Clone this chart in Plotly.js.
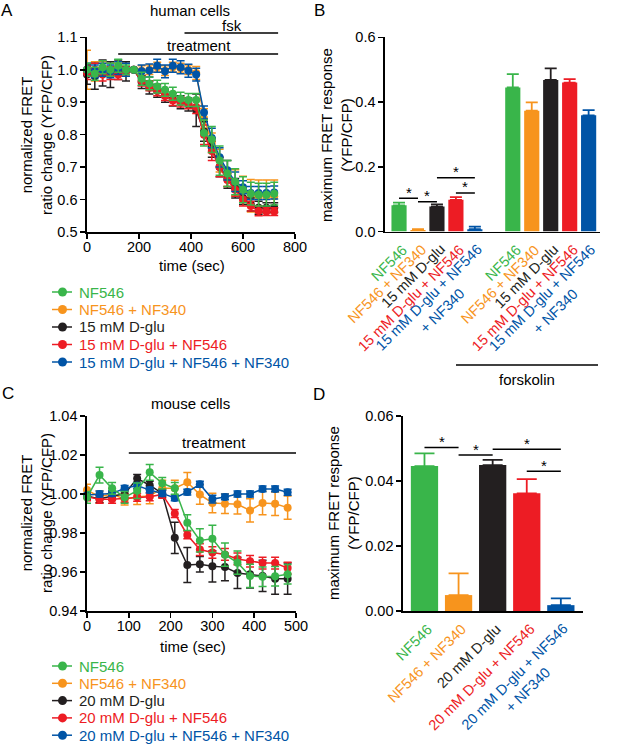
<!DOCTYPE html>
<html>
<head>
<meta charset="utf-8">
<script src="https://cdn.plot.ly/plotly-3.0.1.min.js"></script>
<style>
  body { margin: 0; background: #fff; }
  #grafico { width: 617px; height: 746px; }
</style>
</head>
<body>
<div id="grafico"></div>
<script>
// colores de las series (verde, naranja, negro, rojo, azul)
const colores = ["#39B54A", "#F7941D", "#231F20", "#ED1C24", "#0054A6"];

// ---- Panel A: human cells ----
const nombresA = ["NF546", "NF546 + NF340", "15 mM D-glu", "15 mM D-glu + NF546", "15 mM D-glu + NF546 + NF340"];
const tiempoA = [0, 30, 60, 90, 120, 150, 180, 210, 240, 270, 300, 330, 360, 390, 420, 450, 480, 510, 540, 570, 600, 630, 660, 690, 720];
const verdeA = [1.0, 0.988, 1.008, 1.0, 1.012, 1.0, 1.0, 0.972, 0.958, 0.948, 0.938, 0.926, 0.911, 0.907, 0.907, 0.805, 0.785, 0.72, 0.68, 0.655, 0.63, 0.618, 0.615, 0.615, 0.618];
const naranjaA = [1.0, 0.995, 1.005, 1.0, 1.0, 1.0, 1.0, 0.997, 1.0, 1.008, 0.997, 1.008, 1.005, 1.0, 0.99, 0.85, 0.775, 0.72, 0.68, 0.652, 0.632, 0.612, 0.61, 0.61, 0.61];
const negroA = [0.985, 0.98, 0.99, 0.985, 1.0, 0.995, 1.0, 0.962, 0.945, 0.935, 0.92, 0.908, 0.9, 0.893, 0.875, 0.81, 0.76, 0.7, 0.665, 0.635, 0.605, 0.585, 0.575, 0.575, 0.575];
const rojoA = [0.99, 1.0, 0.985, 0.99, 0.985, 0.995, 1.0, 0.965, 0.95, 0.935, 0.92, 0.905, 0.9, 0.895, 0.885, 0.8, 0.75, 0.7, 0.66, 0.63, 0.6, 0.58, 0.565, 0.563, 0.563];
const azulA = [1.0, 0.995, 1.0, 0.995, 1.005, 1.0, 1.0, 0.995, 0.998, 1.012, 0.995, 1.012, 1.008, 0.997, 0.985, 0.868, 0.79, 0.73, 0.69, 0.655, 0.638, 0.62, 0.62, 0.62, 0.622];
const verdeErrA = [0.02, 0.02, 0.02, 0.02, 0.02, 0.015, 0, 0.02, 0.02, 0.02, 0.02, 0.02, 0.02, 0.02, 0.02, 0.04, 0.04, 0.045, 0.04, 0.04, 0.04, 0.035, 0.035, 0.035, 0.035];
const naranjaErrA = [0.06, 0.03, 0.02, 0.02, 0.02, 0.02, 0, 0.015, 0.015, 0.015, 0.015, 0.015, 0.015, 0.015, 0.02, 0.03, 0.03, 0.035, 0.04, 0.04, 0.04, 0.05, 0.05, 0.05, 0.05];
const negroErrA = [0.03, 0.04, 0.04, 0.04, 0.03, 0.03, 0, 0.02, 0.02, 0.02, 0.02, 0.02, 0.02, 0.02, 0.05, 0.03, 0.03, 0.03, 0.03, 0.03, 0.02, 0.02, 0.02, 0.015, 0.015];
const rojoErrA = [0.02, 0.02, 0.02, 0.02, 0.015, 0.015, 0, 0.015, 0.015, 0.015, 0.015, 0.015, 0.015, 0.015, 0.02, 0.03, 0.03, 0.03, 0.02, 0.02, 0.02, 0.015, 0.015, 0.012, 0.012];
const azulErrA = [0.02, 0.02, 0.02, 0.02, 0.02, 0.02, 0, 0.02, 0.02, 0.02, 0.02, 0.02, 0.02, 0.02, 0.02, 0.02, 0.03, 0.03, 0.03, 0.03, 0.02, 0.02, 0.02, 0.02, 0.02];

// ---- Panel B: maximum FRET response, human ----
const etiquetasB = ["NF546", "NF546 + NF340", "15 mM D-glu", "15 mM D-glu + NF546", "15 mM D-glu + NF546<br>+ NF340"];
const posicionesB = [0, 1, 2, 3, 4, 6, 7, 8, 9, 10];
const basalB = [0.081, 0.005, 0.077, 0.098, 0.007];
const basalErrB = [0.008, 0.002, 0.007, 0.008, 0.008];
const forskolinB = [0.445, 0.373, 0.468, 0.46, 0.359];
const forskolinErrB = [0.041, 0.026, 0.036, 0.011, 0.016];
// comparaciones: [desde, hasta, altura]
const signifB = [[0, 1, 0.103], [1, 2, 0.092], [2, 4, 0.166], [3, 4, 0.119]];

// ---- Panel C: mouse cells ----
const nombresC = ["NF546", "NF546 + NF340", "20 mM D-glu", "20 mM D-glu + NF546", "20 mM D-glu + NF546 + NF340"];
const tiempoC = [0, 30, 60, 90, 120, 150, 180, 210, 240, 270, 300, 330, 360, 390, 420, 450, 480];
const verdeC = [0.9983, 1.0097, 1.0029, 0.9983, 1.0017, 1.0111, 1.0055, 1.0029, 0.9853, 0.9762, 0.977, 0.9689, 0.9648, 0.958, 0.9575, 0.9578, 0.9588];
const naranjaC = [1.002, 0.9986, 1.0, 0.9973, 0.9986, 0.999, 1.003, 1.003, 1.006, 0.9997, 0.9954, 0.995, 0.9947, 0.9916, 0.9954, 0.995, 0.993];
const negroC = [0.999, 0.9975, 0.999, 1.0, 1.008, 1.0045, 1.0003, 0.9775, 0.9636, 0.964, 0.9629, 0.9625, 0.9595, 0.9588, 0.958, 0.9566, 0.9566];
const rojoC = [0.9986, 0.9973, 0.9973, 0.9978, 0.9983, 0.9986, 0.9998, 0.99, 0.979, 0.9715, 0.97, 0.969, 0.9667, 0.9655, 0.9646, 0.9646, 0.962];
const azulC = [0.9995, 1.0, 1.0003, 1.0029, 1.0043, 1.002, 1.0003, 0.998, 1.001, 1.005, 0.9974, 0.9985, 1.0, 1.0, 1.0026, 1.0026, 1.0009];
const verdeErrC = [0.003, 0.004, 0.003, 0.003, 0.004, 0.004, 0.003, 0.003, 0.004, 0.006, 0.007, 0.006, 0.006, 0.006, 0.005, 0.005, 0.005];
const naranjaErrC = [0.003, 0.003, 0.003, 0.003, 0.004, 0.004, 0.004, 0.004, 0.005, 0.005, 0.005, 0.005, 0.005, 0.006, 0.006, 0.006, 0.006];
const negroErrC = [0.002, 0.002, 0.002, 0.002, 0.002, 0.002, 0.002, 0.008, 0.009, 0.004, 0.008, 0.007, 0.008, 0.007, 0.008, 0.008, 0.008];
const rojoErrC = [0.002, 0.002, 0.002, 0.002, 0.002, 0.002, 0.002, 0.002, 0.002, 0.003, 0.003, 0.003, 0.003, 0.003, 0.003, 0.003, 0.003];
const azulErrC = [0.0015, 0.0015, 0.0015, 0.0015, 0.0015, 0.0015, 0.0015, 0.0015, 0.0015, 0.0015, 0.002, 0.0015, 0.0015, 0.0015, 0.0015, 0.0015, 0.0015];

// ---- Panel D: maximum FRET response, mouse ----
const etiquetasD = ["NF546", "NF546 + NF340", "20 mM D-glu", "20 mM D-glu + NF546", "20 mM D-glu + NF546<br>+ NF340"];
const valoresD = [0.0446, 0.0049, 0.0449, 0.0362, 0.0018];
const erroresD = [0.0039, 0.0067, 0.0016, 0.0044, 0.0021];
const signifD = [[0, 1, 0.0503], [1, 2, 0.048], [2, 4, 0.0498], [3, 4, 0.043]];

const W = 617, H = 746;
const fuente = "Liberation Sans, Arial, Helvetica, sans-serif";
const px = x => x / W;
const py = y => 1 - y / H;

// orden de dibujo: naranja, negro, rojo, azul, verde (verde encima)
const ordenDibujo = [1, 2, 3, 4, 0];

function trazasTiempo(tiempo, series, errores, nombres, ejeX, ejeY) {
    return ordenDibujo.map(i => ({
        x: tiempo,
        y: series[i],
        error_y: { type: "data", array: errores[i], color: colores[i], thickness: 1.5, width: 4 },
        mode: "lines+markers",
        type: "scatter",
        line: { color: colores[i], width: 1.5 },
        marker: { color: colores[i], size: 8 },
        name: nombres[i],
        xaxis: ejeX,
        yaxis: ejeY,
        cliponaxis: false,
        showlegend: false
    }));
}

// barras: una traza por barra para que cada barra de error lleve su color
function trazasBarras(posiciones, valores, errores, ejeX, ejeY, capa) {
    return posiciones.map((p, i) => ({
        x: [p], y: [valores[i]],
        error_y: { type: "data", symmetric: false, array: [errores[i]], arrayminus: [0], color: colores[i % 5], thickness: 1.8, width: capa },
        type: "bar", width: 0.8,
        marker: { color: colores[i % 5] },
        xaxis: ejeX, yaxis: ejeY,
        showlegend: false
    }));
}

const data = [];
data.push(...trazasTiempo(tiempoA, [verdeA, naranjaA, negroA, rojoA, azulA],
    [verdeErrA, naranjaErrA, negroErrA, rojoErrA, azulErrA], nombresA, "x", "y"));
data.push(...trazasBarras(posicionesB, basalB.concat(forskolinB), basalErrB.concat(forskolinErrB), "x2", "y2", 6));
data.push(...trazasTiempo(tiempoC, [verdeC, naranjaC, negroC, rojoC, azulC],
    [verdeErrC, naranjaErrC, negroErrC, rojoErrC, azulErrC], nombresC, "x3", "y3"));
data.push(...trazasBarras([0, 1, 2, 3, 4], valoresD, erroresD, "x4", "y4", 10));

const ejeBase = {
    showgrid: false, zeroline: false, showline: true,
    linecolor: "#000", linewidth: 1.6,
    ticks: "outside", ticklen: 5, tickwidth: 1.5, tickcolor: "#000",
    tickfont: { family: fuente, size: 14.5, color: "#000" },
    fixedrange: true
};

const shapes = [];
const annotations = [];

function linea(xref, x0, x1, yref, y0, color) {
    shapes.push({ type: "line", xref: xref, yref: yref, x0: x0, x1: x1, y0: y0, y1: y0, line: { color: color || "#000", width: 1.5 } });
}
function texto(t, x, y, extra) {
    annotations.push(Object.assign({
        text: t, xref: "paper", yref: "paper", x: px(x), y: py(y),
        showarrow: false, xanchor: "center", yanchor: "middle",
        font: { family: fuente, size: 15, color: "#000" }
    }, extra || {}));
}
function estrellas(lista, xref, yref) {
    lista.forEach(([a, b, h]) => {
        linea(xref, a, b, yref, h);
        annotations.push({
            text: "*", xref: xref, yref: yref, x: (a + b) / 2, y: h,
            showarrow: false, yanchor: "middle", yshift: 6,
            font: { family: fuente, size: 15, color: "#000" }
        });
    });
}
// etiquetas de categoría giradas 45°, terminando bajo cada barra
function etiquetas(lista, posiciones, xref, yEje) {
    posiciones.forEach((p, i) => {
        const t = lista[i % lista.length];
        const lineas = t.split("<br>").length;
        annotations.push({
            text: t, xref: xref, yref: "paper", x: p, y: py(yEje),
            xanchor: "right", yanchor: "top", textangle: -45, align: "center",
            xshift: lineas > 1 ? 26 : 14, yshift: -7,
            showarrow: false,
            font: { family: fuente, size: 14.5, color: colores[i % 5] }
        });
    });
}
// leyenda dibujada a mano: línea con punto y texto de color
function leyenda(nombres, y0, paso) {
    nombres.forEach((n, i) => {
        const y = y0 + paso * i;
        linea("paper", px(52), px(72), "paper", py(y), colores[i]);
        shapes.push({
            type: "circle", xref: "paper", yref: "paper",
            x0: px(58), x1: px(67), y0: py(y + 4.5), y1: py(y - 4.5),
            fillcolor: colores[i], line: { width: 0 }
        });
        texto(n, 77, y, { xanchor: "left", font: { family: fuente, size: 15, color: colores[i] } });
    });
}

// barras de tratamiento
linea("x", 375, 735, "paper", py(33));
linea("x", 120, 735, "paper", py(54));
linea("x3", 100, 500, "paper", py(453));
linea("paper", px(456), px(598), "paper", py(365));
estrellas(signifB, "x2", "y2");
estrellas(signifD, "x4", "y4");
etiquetas(etiquetasB, posicionesB, "x2", 231.5);
etiquetas(etiquetasD, [0, 1, 2, 3, 4], "x4", 611);
leyenda(nombresA, 292, 17.5);
leyenda(nombresC, 666, 17.3);

// textos
const letra = { font: { family: fuente, size: 17, color: "#000" } };
texto("A", 7, 10, letra);
texto("B", 319, 10, letra);
texto("C", 8, 393, letra);
texto("D", 319, 394, letra);
texto("human cells", 190, 10);
texto("fsk", 232, 25);
texto("treatment", 199, 45);
texto("mouse cells", 190, 403);
texto("treatment", 214, 443);
texto("forskolin", 527, 379);
texto("time (sec)", 192, 265);
texto("time (sec)", 193, 646);
texto("normalized FRET<br>ratio change (YFP/CFP)", 36, 135, { textangle: -90 });
texto("normalized FRET<br>ratio change (YFP/CFP)", 36, 513, { textangle: -90 });
texto("maximum FRET response<br>(YFP/CFP)", 336, 135, { textangle: -90 });
texto("maximum FRET response<br>(YFP/CFP)", 343, 513, { textangle: -90 });

const layout = {
    width: W, height: H,
    margin: { l: 0, r: 0, t: 0, b: 0 },
    paper_bgcolor: "#fff", plot_bgcolor: "rgba(0,0,0,0)",
    font: { family: fuente, size: 15, color: "#000" },
    showlegend: false,
    xaxis: Object.assign({}, ejeBase, { domain: [px(87), px(295)], range: [0, 800], dtick: 200, anchor: "y", ticklabelstandoff: -4 }),
    yaxis: Object.assign({}, ejeBase, { domain: [py(232), py(37.3)], range: [0.5, 1.1], dtick: 0.1, tickformat: ".1f", anchor: "x" }),
    xaxis2: Object.assign({}, ejeBase, {
        domain: [px(385), px(600)], range: [-0.74, 10.6], anchor: "y2",
        ticks: "", showticklabels: false
    }),
    yaxis2: Object.assign({}, ejeBase, { domain: [py(231.5), py(37.3)], range: [0, 0.6], dtick: 0.2, tickformat: ".1f", anchor: "x2" }),
    xaxis3: Object.assign({}, ejeBase, { domain: [px(87), px(296)], range: [0, 500], dtick: 100, anchor: "y3", ticklabelstandoff: -4 }),
    yaxis3: Object.assign({}, ejeBase, { domain: [py(611), py(416)], range: [0.94, 1.04], dtick: 0.02, tickformat: ".2f", anchor: "x3" }),
    xaxis4: Object.assign({}, ejeBase, {
        domain: [px(403), px(583)], range: [-0.63, 4.65], anchor: "y4",
        ticks: "", showticklabels: false
    }),
    yaxis4: Object.assign({}, ejeBase, { domain: [py(611), py(416)], range: [0, 0.06], dtick: 0.02, tickformat: ".2f", anchor: "x4" }),
    shapes: shapes,
    annotations: annotations
};

Plotly.newPlot("grafico", data, layout, { staticPlot: true, displayModeBar: false });
</script>
</body>
</html>
